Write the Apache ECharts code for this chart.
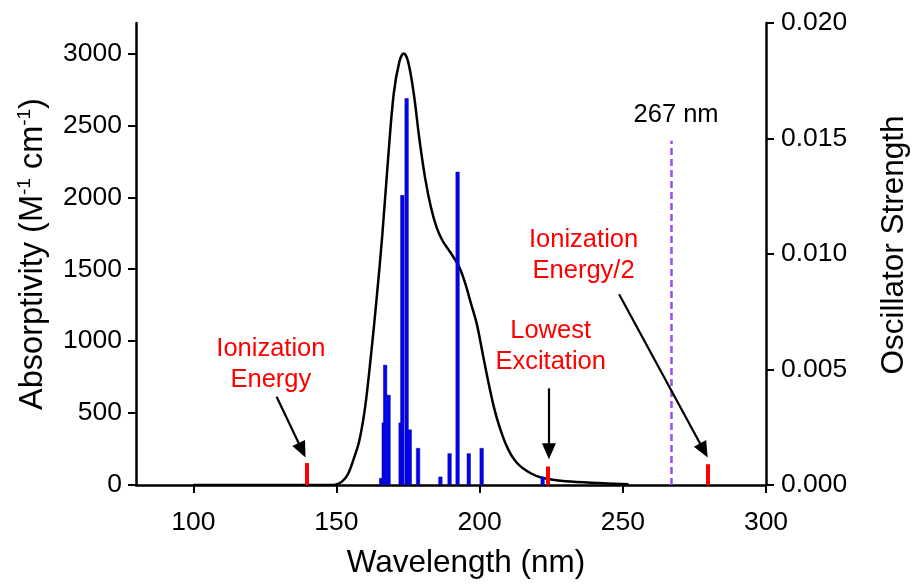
<!DOCTYPE html>
<html>
<head>
<meta charset="utf-8">
<script src="https://cdn.jsdelivr.net/npm/echarts@6/dist/echarts.min.js"></script>
<style>
html,body{margin:0;padding:0;background:#fff;}
#chart{width:913px;height:588px;}
</style>
</head>
<body>
<div id="chart"></div>
<script>
// ---- Data ----
// Simulated absorption spectrum (left axis)
const wavelength = [100,148,150,152,154,156,158,160,162,164,166,168,170,172,173.5,175,177,179,181,183,185,187,189,191,193,195,197,199,201,203,205,207,209,211,213,215,218,221,225,230,240,252];
const absorptivity = [0,0,4,25,75,180,310,540,890,1290,1735,2260,2720,2945,3000,2945,2720,2400,2130,1930,1790,1700,1640,1580,1510,1400,1260,1120,920,720,540,400,290,210,155,118,80,55,38,26,15,6];
// Oscillator strength sticks (right axis)
const stickWl = [165.6,166.5,167.0,168.2,172.4,173.0,174.5,175.6,178.5,186.3,189.5,192.3,196.2,200.7,222.0];
const stickF  = [0.0003,0.0027,0.0052,0.0039,0.0027,0.01255,0.01674,0.0024,0.0016,0.00036,0.00137,0.01356,0.00137,0.0016,0.00036];
// Red energy markers (right axis)
const markerWl = [139.7,223.8,279.6];
const markerF  = [0.00095,0.0008,0.0009];
// Reference wavelength line (left axis units)
const refWl = [267,267];
const refY = [0,2394];
// Annotations (left axis units)
const annoText = ['Ionization\nEnergy','Lowest\nExcitation','Ionization\nEnergy/2','267 nm'];
const annoX = [127.1,224.8,236.3,268.6];
const annoY = [841,962,1594,2573];
const annoColor = ['#ff0000','#ff0000','#ff0000','#000000'];
// Arrows: start and end (left axis units)
const arrowFrom = [[129.1,614],[224.2,672],[248.7,1326]];
const arrowTo   = [[138.0,241],[224.2,234],[278.3,240]];
// Ticks
const xTicks = [100,150,200,250,300];
const yLeftTicks = [0,500,1000,1500,2000,2500,3000];
const yRightTicks = [0,0.005,0.010,0.015,0.020];

const FONT = '"Liberation Sans", Arial, Helvetica, sans-serif';
const TICK_FS = 26.5;
const TITLE_FS = 31.5;

const curveData = wavelength.map((w,i)=>[w,absorptivity[i]]);
const stickData = stickWl.map((w,i)=>[w,stickF[i]]);
const refData = refWl.map((w,i)=>[w,refY[i]]);

const markerLines = markerWl.map((w,i)=>[
  {coord:[w,0], symbol:'none'},
  {coord:[w,markerF[i]], symbol:'none'}
]);

const arrowLines = arrowFrom.map((p,i)=>[
  {coord:p, symbol:'none'},
  {coord:arrowTo[i], symbol:'triangle', symbolSize:[14,16]}
]);

const annoPoints = annoText.map((t,i)=>({
  coord:[annoX[i],annoY[i]],
  label:{formatter:t, color:annoColor[i]}
}));

const axisLineStyle = {show:true, lineStyle:{color:'#000', width:2.5}};

const chart = echarts.init(document.getElementById('chart'), null, {renderer:'canvas'});
chart.setOption({
  animation:false,
  backgroundColor:'#fff',
  grid:{left:136, right:147, top:23, bottom:103, containLabel:false, outerBoundsMode:'none'},
  xAxis:{
    type:'value', min:80, max:300,
    name:'Wavelength (nm)', nameLocation:'middle', nameGap:62,
    axisLine:axisLineStyle, splitLine:{show:false},
    nameTextStyle:{color:'#000', fontFamily:FONT, fontSize:TITLE_FS, padding:[0,0,0,30]},
    axisTick:{show:true, length:8, lineStyle:{color:'#000', width:2}, customValues:xTicks},
    axisLabel:{color:'#000', fontFamily:FONT, fontSize:TICK_FS, margin:24, customValues:xTicks}
  },
  yAxis:[{
    type:'value', min:0, max:3212, position:'left',
    name:'Absorptivity (M{sup|-1} cm{sup|-1})', nameLocation:'middle', nameGap:84, nameRotate:90,
    axisLine:axisLineStyle, splitLine:{show:false},
    nameTextStyle:{color:'#000', fontFamily:FONT, fontSize:32.5, lineHeight:37,
      rich:{sup:{fontSize:19, fontFamily:FONT, color:'#000', verticalAlign:'top', lineHeight:23}}},
    axisTick:{show:true, length:8, lineStyle:{color:'#000', width:2}, customValues:yLeftTicks},
    axisLabel:{color:'#000', fontFamily:FONT, fontSize:TICK_FS, margin:14, customValues:yLeftTicks,
      formatter:v=> (v%500===0 ? String(v) : '')}
  },{
    type:'value', min:0, max:0.02, interval:0.005, position:'right',
    name:'Oscillator Strength', nameLocation:'middle', nameGap:112, nameRotate:90,
    axisLine:axisLineStyle, splitLine:{show:false},
    nameTextStyle:{color:'#000', fontFamily:FONT, fontSize:TITLE_FS, padding:[0,0,0,18]},
    axisTick:{show:true, length:8, lineStyle:{color:'#000', width:2}, customValues:yRightTicks},
    axisLabel:{color:'#000', fontFamily:FONT, fontSize:TICK_FS, margin:15, customValues:yRightTicks,
      formatter:v=>v.toFixed(3)}
  }],
  series:[{
    type:'line', name:'267 nm', xAxisIndex:0, yAxisIndex:0,
    data:refData, showSymbol:false, symbol:'none', z:1,
    lineStyle:{color:'#9d4cf5', width:2.5, type:[7,4]}
  },{
    type:'line', name:'Absorptivity', xAxisIndex:0, yAxisIndex:0,
    data:curveData, smooth:0.35, showSymbol:false, symbol:'none',
    lineStyle:{color:'#000', width:2.5}, z:2,
    markLine:{silent:true, symbol:'none', label:{show:false}, animation:false,
      lineStyle:{color:'#000', width:2.2, type:'solid'},
      data: arrowLines},
    markPoint:{silent:true, symbol:'circle', symbolSize:1, itemStyle:{color:'rgba(0,0,0,0)'},
      label:{show:true, position:'inside', fontFamily:FONT, fontSize:25.5, lineHeight:31, align:'center', verticalAlign:'middle'},
      data: annoPoints}
  },{
    type:'bar', name:'Oscillator Strength', xAxisIndex:0, yAxisIndex:1,
    data:stickData, barWidth:4, z:3,
    itemStyle:{color:'#0000ff', borderColor:'#10106a', borderWidth:0.5},
    markLine:{silent:true, symbol:'none', label:{show:false}, animation:false,
      lineStyle:{color:'#ff0000', width:4, type:'solid', cap:'butt'},
      data: markerLines}
  }]
});
</script>
</body>
</html>
